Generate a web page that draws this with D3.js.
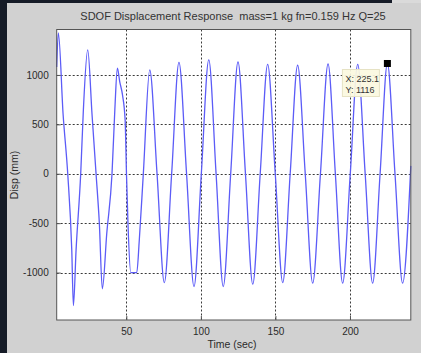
<!DOCTYPE html>
<html>
<head>
<meta charset="utf-8">
<script src="https://cdn.jsdelivr.net/npm/d3@7"></script>
<style>
  body { margin: 0; background: #151b27; }
  svg { display: block; font-family: "Liberation Sans", Arial, sans-serif; }
</style>
</head>
<body>
<div id="chart"></div>
<script>
// data (time in sec, displacement in mm)
const time = [
  3.3, 4.4, 7.6, 10.7, 13.4, 14.5, 16.3, 19.4, 21.2, 24.1,
  27.0, 29.7, 31.9, 33.9, 36.9, 40.4, 42.3, 44.0, 45.6, 47.4,
  49.2, 50.1, 51.1, 53.0, 57.0, 58.7, 61.4, 65.7, 70.6, 75.5,
  80.4, 85.3, 90.4, 95.4, 100.3, 105.3, 110.2, 115.0, 120.0, 124.9,
  129.9, 134.8, 139.8, 144.8, 149.9, 154.9, 159.9, 164.9, 170.0, 175.0,
  180.2, 185.3, 190.2, 195.1, 200.2, 205.2, 210.2, 215.2, 220.2, 225.1,
  230.2, 235.3, 240.8
];
const disp = [
  1080, 1425, 600, 0, -770, -1334, -770, 0, 650, 1253,
  600, 0, -500, -1165, -600, 0, 650, 1068, 930, 800,
  545, 0, -500, -1000, -1000, -670, 0, 1051, 0, -1101,
  0, 1128, 0, -1141, 0, 1152, 0, -1141, 0, 1131,
  0, -1117, 0, 1108, 0, -1101, 0, 1098, 0, -1107,
  0, 1111, 0, -1107, 0, 1108, 0, -1107, 0, 1116,
  0, -1107, 80
];
const xTicks = [50, 100, 150, 200];
const yTicks = [-1000, -500, 0, 500, 1000];
const tip = { t: 225.1, v: 1116 };

// 1) Dimensions
const width = 421;
const height = 353;
const plot = { left: 56.7, right: 410.8, top: 29.5, bottom: 320 };

// 2) SVG + figure background
const svg = d3.select("#chart")
  .append("svg")
  .attr("width", width)
  .attr("height", height);

svg.append("rect")
  .attr("width", width).attr("height", height)
  .attr("fill", "#151b27");
svg.append("rect")
  .attr("x", 7).attr("y", 3)
  .attr("width", width - 7).attr("height", height - 3)
  .attr("fill", "#d1d1d1");
svg.append("rect")
  .attr("x", 392).attr("y", 0)
  .attr("width", width - 392).attr("height", 3)
  .attr("fill", "#dadada");

// 3) Scales
const x = d3.scaleLinear().domain([3.3, 240.8]).range([plot.left, plot.right]);
const y = d3.scaleLinear().domain([-1480, 1460]).range([plot.bottom, plot.top]);

// 4) Axes area
svg.append("rect")
  .attr("x", plot.left).attr("y", plot.top)
  .attr("width", plot.right - plot.left)
  .attr("height", plot.bottom - plot.top)
  .attr("fill", "#fff");

// 5) Grid
const grid = svg.append("g")
  .attr("stroke", "#3a3a3a")
  .attr("stroke-width", 1)
  .attr("stroke-dasharray", "2,2");

grid.selectAll(".gx")
  .data(xTicks)
  .enter()
  .append("line")
  .attr("x1", (d) => Math.round(x(d)) + 0.5)
  .attr("x2", (d) => Math.round(x(d)) + 0.5)
  .attr("y1", plot.top)
  .attr("y2", plot.bottom);

grid.selectAll(".gy")
  .data(yTicks)
  .enter()
  .append("line")
  .attr("x1", plot.left)
  .attr("x2", plot.right)
  .attr("y1", (d) => Math.round(y(d)) + 0.5)
  .attr("y2", (d) => Math.round(y(d)) + 0.5);

// 6) Response line
const line = d3.line()
  .x((d, i) => x(time[i]))
  .y((d) => y(d))
  .curve(d3.curveMonotoneX);

svg.append("path")
  .datum(disp)
  .attr("d", line)
  .attr("fill", "none")
  .attr("stroke", "#5c5cf7")
  .attr("stroke-width", 1.3);

// 7) Axes (ticks inside, like matlab)
const xAxis = svg.append("g")
  .attr("transform", `translate(0, ${plot.bottom})`)
  .call(d3.axisBottom(x).tickValues(xTicks).tickFormat((d) => String(d)).tickSize(-4).tickPadding(8));
const yAxis = svg.append("g")
  .attr("transform", `translate(${plot.left}, 0)`)
  .call(d3.axisLeft(y).tickValues(yTicks).tickFormat((d) => String(d)).tickSize(-4).tickPadding(8));

[xAxis, yAxis].forEach((a) => {
  a.select(".domain").remove();
  a.selectAll("line").attr("stroke", "#555");
  a.selectAll("text")
    .attr("fill", "#2a2a2a")
    .style("font-size", "10px")
    .style("font-family", "'Liberation Sans', Arial, sans-serif");
});

// box
svg.append("rect")
  .attr("x", plot.left).attr("y", plot.top)
  .attr("width", plot.right - plot.left)
  .attr("height", plot.bottom - plot.top)
  .attr("fill", "none")
  .attr("stroke", "#555")
  .attr("stroke-width", 1);

// 8) Title + labels
svg.append("text")
  .attr("x", 233)
  .attr("y", 19.5)
  .attr("text-anchor", "middle")
  .attr("fill", "#333")
  .style("font-size", "11px")
  .style("white-space", "pre")
  .text("SDOF Displacement Response  mass=1 kg fn=0.159 Hz Q=25");

svg.append("text")
  .attr("x", 232)
  .attr("y", 348)
  .attr("text-anchor", "middle")
  .attr("fill", "#2a2a2a")
  .style("font-size", "10.5px")
  .text("Time (sec)");

svg.append("text")
  .attr("transform", "translate(18, 175) rotate(-90)")
  .attr("text-anchor", "middle")
  .attr("fill", "#2a2a2a")
  .style("font-size", "10.5px")
  .text("Disp (mm)");

// 9) Data tip
const tx = x(tip.t);
const ty = y(tip.v);
const tipG = svg.append("g");
tipG.append("rect")
  .attr("x", tx - 45).attr("y", ty + 6)
  .attr("width", 37).attr("height", 27)
  .attr("fill", "#fbf9df")
  .attr("fill-opacity", 0.92)
  .attr("stroke", "#e6e2c4");
tipG.append("text")
  .attr("x", tx - 42).attr("y", ty + 18.5)
  .attr("fill", "#333")
  .style("font-size", "9px")
  .text(`X: ${tip.t}`);
tipG.append("text")
  .attr("x", tx - 42).attr("y", ty + 30)
  .attr("fill", "#333")
  .style("font-size", "9px")
  .text(`Y: ${tip.v}`);
tipG.append("rect")
  .attr("x", tx - 3.5).attr("y", ty - 3.5)
  .attr("width", 7).attr("height", 7)
  .attr("fill", "#000");
</script>
</body>
</html>
